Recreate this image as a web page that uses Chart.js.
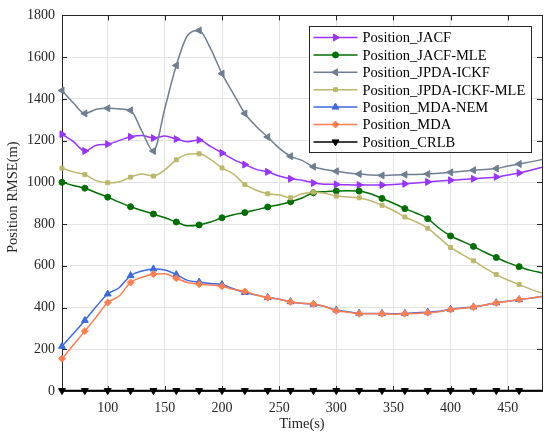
<!DOCTYPE html>
<html>
<head>
<meta charset="utf-8">
<script src="https://cdn.jsdelivr.net/npm/chart.js@4.4.1/dist/chart.umd.min.js"></script>
<style>
  html, body { margin: 0; padding: 0; background: #fff; }
</style>
</head>
<body>
<canvas id="rmseChart" width="550" height="438"></canvas>
<script>
// time axis (s), one sample every 10 s
const times = [60, 70, 80, 90, 100, 110, 120, 130, 140, 150, 160, 170, 180, 190, 200,
  210, 220, 230, 240, 250, 260, 270, 280, 290, 300, 310, 320, 330, 340, 350,
  360, 370, 380, 390, 400, 410, 420, 430, 440, 450, 460, 470, 480];
const xTicks = [100, 150, 200, 250, 300, 350, 400, 450];
const yTicks = [0, 200, 400, 600, 800, 1000, 1200, 1400, 1600, 1800];

const labels = ["Position_JACF", "Position_JACF-MLE", "Position_JPDA-ICKF",
  "Position_JPDA-ICKF-MLE", "Position_MDA-NEM", "Position_MDA", "Position_CRLB"];

const jacf = [1230, 1195, 1150, 1178, 1183, 1200, 1218, 1225, 1212, 1222, 1207, 1195, 1203, 1172, 1141,
  1110, 1085, 1062, 1050, 1030, 1017, 1010, 997, 991, 990, 988, 987, 987, 987, 990,
  993, 997, 1002, 1006, 1010, 1013, 1017, 1021, 1026, 1035, 1045, 1058, 1072];
const jacfMle = [1000, 985, 972, 950, 929, 905, 883, 865, 848, 830, 810, 792, 796, 810, 830,
  845, 855, 868, 882, 893, 907, 925, 950, 955, 958, 960, 958, 945, 923, 900,
  874, 852, 826, 780, 743, 718, 693, 665, 640, 615, 596, 578, 566];
const jpdaIckf = [1440, 1380, 1330, 1350, 1355, 1352, 1345, 1244, 1150, 1355, 1560, 1705, 1728, 1641, 1521,
  1424, 1330, 1268, 1217, 1164, 1125, 1105, 1075, 1061, 1053, 1045, 1040, 1035, 1033, 1035,
  1037, 1038, 1040, 1044, 1048, 1053, 1058, 1062, 1066, 1078, 1088, 1098, 1109];
const jpdaIckfMle = [1068, 1050, 1037, 1008, 998, 1002, 1025, 1040, 1030, 1060, 1108, 1135, 1137, 1110, 1069,
  1040, 990, 962, 945, 940, 926, 945, 953, 948, 934, 930, 926, 912, 890, 865,
  834, 810, 780, 735, 688, 655, 624, 590, 558, 532, 510, 488, 469];
const mdaNem = [214, 275, 338, 405, 465, 495, 553, 575, 585, 580, 558, 530, 522, 515, 510,
  490, 472, 460, 448, 440, 428, 420, 416, 405, 388, 380, 373, 372, 372, 370,
  372, 375, 378, 382, 392, 398, 403, 412, 423, 430, 438, 445, 453];
const mda = [155, 220, 287, 355, 424, 455, 520, 545, 560, 562, 540, 520, 512, 508, 502,
  487, 477, 460, 447, 440, 427, 420, 417, 405, 385, 378, 370, 370, 370, 368,
  370, 372, 375, 380, 390, 396, 402, 412, 422, 430, 438, 445, 453];
const crlb = [2, 2, 2, 2, 2, 2, 2, 2, 2, 2, 2, 2, 2, 2, 2,
  2, 2, 2, 2, 2, 2, 2, 2, 2, 2, 2, 2, 2, 2, 2,
  2, 2, 2, 2, 2, 2, 2, 2, 2, 2, 2, 2, 2];

const seriesValues = [jacf, jacfMle, jpdaIckf, jpdaIckfMle, mdaNem, mda, crlb];

// line colour, marker shape, marker rotation, marker radius
const styles = [
  { color: "#9933ff", shape: "triangle", rot: 90, r: 4 },
  { color: "#006f00", shape: "circle", rot: 0, r: 3 },
  { color: "#6e7f91", shape: "triangle", rot: -90, r: 4 },
  { color: "#bdb76b", shape: "rect", rot: 0, r: 2.8 },
  { color: "#3d6ae0", shape: "triangle", rot: 0, r: 4 },
  { color: "#ff7f50", shape: "rectRot", rot: 0, r: 3.5 },
  { color: "#000000", shape: "triangle", rot: 180, r: 4 }
];

const serif = "'Liberation Serif', 'Times New Roman', serif";
const axisColor = "#262626";

// marker every 20 s, like the original plot
function markerRadius(r) {
  return ctx => {
    const t = times[ctx.dataIndex];
    return (t % 20 === 0 && t < 480) ? r : 0;
  };
}

const datasets = labels.map((name, i) => ({
  label: name,
  data: times.map((t, k) => ({ x: t, y: seriesValues[i][k] })),
  borderColor: styles[i].color,
  backgroundColor: styles[i].color,
  pointBackgroundColor: styles[i].color,
  pointBorderColor: styles[i].color,
  borderWidth: 1.5,
  pointStyle: styles[i].shape,
  pointRotation: styles[i].rot,
  pointRadius: markerRadius(styles[i].r),
  pointBorderWidth: 1,
  legendRadius: styles[i].r,
  cubicInterpolationMode: "monotone",
  clip: false,
  order: labels.length - i
}));

// box round the axes, with matlab-like ticks pointing inwards
const frame = {
  id: "frame",
  beforeDatasetsDraw(chart) {
    const { ctx, chartArea: a, scales } = chart;
    ctx.save();
    ctx.strokeStyle = axisColor;
    ctx.lineWidth = 1;
    ctx.strokeRect(Math.round(a.left) + 0.5, Math.round(a.top) + 0.5,
      Math.round(a.right - a.left), Math.round(a.bottom - a.top));
    ctx.beginPath();
    xTicks.forEach(v => {
      const px = Math.round(scales.x.getPixelForValue(v)) + 0.5;
      ctx.moveTo(px, a.bottom); ctx.lineTo(px, a.bottom - 5);
      ctx.moveTo(px, a.top); ctx.lineTo(px, a.top + 5);
    });
    yTicks.forEach(v => {
      const py = Math.round(scales.y.getPixelForValue(v)) + 0.5;
      ctx.moveTo(a.left, py); ctx.lineTo(a.left + 5, py);
      ctx.moveTo(a.right, py); ctx.lineTo(a.right - 5, py);
    });
    ctx.stroke();

    // y axis title, sits a little above the middle in the original
    ctx.translate(13, (a.top + a.bottom) / 2 - 6);
    ctx.rotate(-Math.PI / 2);
    ctx.font = "14.5px " + serif;
    ctx.fillStyle = axisColor;
    ctx.textAlign = "center";
    ctx.textBaseline = "middle";
    ctx.fillText("Position RMSE(m)", 0, 0);
    ctx.restore();
  }
};

// legend in the upper right corner, line + marker + name
const legendBox = {
  id: "legendBox",
  afterDraw(chart) {
    const { ctx, chartArea: a } = chart;
    const w = 222, h = 126;
    const x0 = Math.round(a.right - 11 - w) + 0.5;
    const y0 = Math.round(a.top + 11) + 0.5;
    ctx.save();
    ctx.fillStyle = "#fff";
    ctx.fillRect(x0, y0, w, h);
    ctx.strokeStyle = axisColor;
    ctx.lineWidth = 1;
    ctx.strokeRect(x0, y0, w, h);
    ctx.font = "14.5px " + serif;
    ctx.textBaseline = "middle";
    chart.data.datasets.forEach((ds, i) => {
      const cy = y0 + 11 + i * 17.4;
      ctx.strokeStyle = ds.borderColor;
      ctx.lineWidth = ds.borderWidth;
      ctx.beginPath();
      ctx.moveTo(x0 + 4, cy);
      ctx.lineTo(x0 + 48, cy);
      ctx.stroke();
      ctx.fillStyle = ds.pointBackgroundColor;
      ctx.lineWidth = 1;
      Chart.helpers.drawPoint(ctx, {
        pointStyle: ds.pointStyle, rotation: ds.pointRotation,
        radius: ds.legendRadius, borderWidth: 1
      }, x0 + 26, cy);
      ctx.fillStyle = "#000";
      ctx.fillText(ds.label, x0 + 53, cy + 1);
    });
    ctx.restore();
  }
};

new Chart(document.getElementById("rmseChart"), {
  type: "line",
  data: { datasets },
  plugins: [frame, legendBox],
  options: {
    responsive: false,
    animation: false,
    layout: { padding: { top: 13, right: 8, left: 0, bottom: 0 } },
    plugins: {
      legend: { display: false },
      tooltip: { enabled: false }
    },
    scales: {
      x: {
        type: "linear",
        min: 60,
        max: 480,
        afterBuildTicks: scale => { scale.ticks = xTicks.map(v => ({ value: v })); },
        afterFit: scale => { scale.height = 47; },
        grid: { color: "#e3e3e3", drawTicks: false },
        border: { display: false },
        ticks: {
          padding: 9,
          color: axisColor,
          font: { family: serif, size: 14 },
          maxRotation: 0,
          callback: v => String(v)
        },
        title: {
          display: true,
          text: "Time(s)",
          color: axisColor,
          font: { family: serif, size: 14.5 },
          padding: { top: 0, bottom: 5 }
        }
      },
      y: {
        min: 0,
        max: 1800,
        afterBuildTicks: scale => { scale.ticks = yTicks.map(v => ({ value: v })); },
        afterFit: scale => { scale.width = 62; },
        grid: { color: "#e3e3e3", drawTicks: false },
        border: { display: false },
        ticks: {
          padding: 7,
          color: axisColor,
          font: { family: serif, size: 14 },
          callback: v => String(v)
        }
      }
    }
  }
});
</script>
</body>
</html>
